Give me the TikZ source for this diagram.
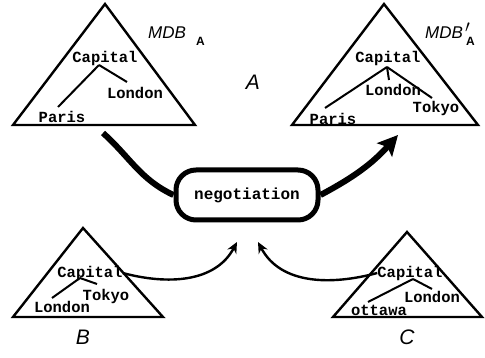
\documentclass[tikz,border=0pt]{standalone}
\usepackage{fontspec}
\setmainfont{Liberation Sans}
\newfontfamily\typew{Liberation Mono}
\usetikzlibrary{arrows.meta}
\begin{document}
\begin{tikzpicture}[x=1pt,y=-1pt]
	\tikzstyle{every node}+=[inner sep=0pt]
	\tikzstyle{db}=[line width=2.4pt, line join=miter]
	\tikzstyle{word}=[font=\typew\bfseries\fontsize{15.5}{15.5}\selectfont]
	\tikzstyle{branch}=[line width=2pt]
	\tikzstyle{site}=[font=\itshape\fontsize{21}{21}\selectfont]
	\tikzstyle{dbname}=[font=\itshape\fontsize{17}{17}\selectfont]
	\tikzstyle{flow}=[line width=6pt]
	\tikzstyle{feed}=[line width=2.4pt, -{Stealth[length=11pt,width=10pt]}]
	\useasboundingbox (0,0) rectangle (485,358);
	% MDB_A
	\draw [db] (105,4) -- (13,125) -- (195,125) -- cycle;
	\node [dbname] (mdbA) at (167,33) {MDB};
	\node [font=\bfseries\fontsize{12}{12}\selectfont, anchor=west] (subA) at (196,41) {A};
	\node [word] (capA) at (105,58) {Capital};
	\node [word] (lonA) at (135,93) {London};
	\node [word] (parA) at (62,117) {Paris};
	\coordinate (rootA) at (99,65);
	\coordinate (legA1) at (58,107);
	\coordinate (legA2) at (127,82);
	\draw [branch] (rootA) -- (legA1);
	\draw [branch] (rootA) -- (legA2);
	% MDB'_A
	\draw [db] (384,4) -- (292,125) -- (478,125) -- cycle;
	\node [dbname] (mdbR) at (444,33) {MDB};
	\node [font=\fontsize{16}{16}\selectfont\bfseries, anchor=west] (prime) at (465,28) {$\prime$};
	\node [font=\bfseries\fontsize{12}{12}\selectfont, anchor=west] (subR) at (466,41) {A};
	\node [site] (siteA) at (253,82) {A};
	\node [word] (capR) at (388,58) {Capital};
	\node [word] (lonR) at (393,90) {London};
	\node [word] (tokR) at (436,108) {Tokyo};
	\node [word] (parR) at (333,119) {Paris};
	\coordinate (rootR) at (387,67);
	\coordinate (legR1) at (325,108);
	\coordinate (legR2) at (389,80);
	\coordinate (legR3) at (432,98);
	\draw [branch] (rootR) -- (legR1);
	\draw [branch] (rootR) -- (legR2);
	\draw [branch] (rootR) -- (legR3);
	% negotiation
	\node [draw, line width=5pt, rounded corners=20pt, minimum width=142pt, minimum height=50pt,
		font=\typew\bfseries\fontsize{16}{16}\selectfont] (neg) at (247,195) {negotiation};
	\coordinate (outA) at (103,133);
	\coordinate (inR) at (398,135);
	\draw [flow] (outA) to[out=-42,in=155] (neg.west);
	\draw [flow, -{Stealth[length=20pt,width=20pt,inset=4pt]}] (neg.east) to[out=28,in=-132] (inR);
	% B
	\draw [db] (83,228) -- (13,317) -- (163,317) -- cycle;
	\node [word] (capB) at (90,273) {Capital};
	\node [word] (tokB) at (106,296) {Tokyo};
	\node [word] (lonB) at (62,307) {London};
	\node [site] (siteB) at (83,337) {B};
	\coordinate (rootB) at (80,278);
	\coordinate (legB1) at (52,298);
	\coordinate (legB2) at (97,284);
	\draw [branch] (rootB) -- (legB1);
	\draw [branch] (rootB) -- (legB2);
	% C
	\draw [db] (407,232) -- (333,317) -- (482,317) -- cycle;
	\node [word] (capC) at (410,273) {Capital};
	\node [word] (lonC) at (432,297) {London};
	\node [word] (otC) at (379,310) {ottawa};
	\node [site] (siteC) at (407,337) {C};
	\coordinate (rootC) at (413,279);
	\coordinate (legC1) at (368,302);
	\coordinate (legC2) at (432,289);
	\draw [branch] (rootC) -- (legC1);
	\draw [branch] (rootC) -- (legC2);
	% feeds
	\coordinate (tipB) at (237,242);
	\coordinate (tipC) at (258,242);
	\draw [feed] (capB.east) to[out=-15,in=-118] (tipB);
	\draw [feed] (capC.west) to[out=195,in=-62] (tipC);
\end{tikzpicture}
\end{document}
